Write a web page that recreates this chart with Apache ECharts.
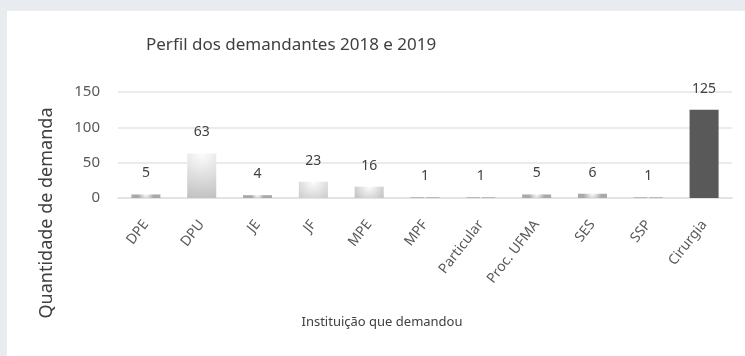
<!DOCTYPE html>
<html>
<head>
<meta charset="utf-8">
<script src="https://cdn.jsdelivr.net/npm/echarts@6/dist/echarts.min.js"></script>
<style>
  html, body { margin: 0; padding: 0; background: #e8ecf0; }
  #chart { width: 745px; height: 356px; }
</style>
</head>
<body>
<div id="chart"></div>
<script>
// Institutions that requested the service, 2018-2019
const categories = ['DPE', 'DPU', 'JE', 'JF', 'MPE', 'MPF', 'Particular', 'Proc. UFMA', 'SES', 'SSP', 'Cirurgia'];
const demandas = [5, 63, 4, 23, 16, 1, 1, 5, 6, 1, 125];
const yTicks = [0, 50, 100, 150];

const FONT = "'Noto Sans', 'Open Sans', sans-serif";

// soft grey fill used for every bar except the highlighted one
const softFill = {
  type: 'radial', x: 0.5, y: 0, r: 2.2,
  colorStops: [
    { offset: 0, color: '#fdfdfd' },
    { offset: 1, color: '#a9a9a9' }
  ]
};

const chart = echarts.init(document.getElementById('chart'), null, { renderer: 'canvas' });

chart.setOption({
  backgroundColor: '#e8ecf0',
  animation: false,
  graphic: [{
    type: 'rect', z: -10, silent: true,
    shape: { x: 7, y: 11, width: 738, height: 345 },
    style: { fill: '#ffffff' }
  }],
  title: {
    text: 'Perfil dos demandantes 2018 e 2019',
    left: 141, top: 32,
    textStyle: { fontFamily: FONT, fontSize: 17, fontWeight: 'normal', color: '#404040' }
  },
  grid: { left: 118, right: 13, top: 92, bottom: 158, containLabel: false },
  xAxis: {
    type: 'category',
    data: categories,
    name: 'Instituição que demandou',
    nameLocation: 'middle',
    nameGap: 118,
    nameTextStyle: { fontFamily: FONT, fontSize: 13, color: '#404040', padding: [0, 86, 0, 0] },
    axisLine: { lineStyle: { color: '#e3e3e3', width: 2 } },
    axisTick: { show: false },
    axisLabel: {
      interval: 0, rotate: 52, margin: 24,
      fontFamily: FONT, fontSize: 14, color: '#595959'
    }
  },
  yAxis: {
    type: 'value',
    min: yTicks[0], max: yTicks[yTicks.length - 1], interval: 50,
    name: 'Quantidade de demanda',
    nameLocation: 'middle',
    nameGap: 62,
    nameRotate: 90,
    nameTextStyle: { fontFamily: FONT, fontSize: 18, color: '#404040', padding: [0, 136, 0, 0] },
    axisLine: { show: false },
    axisTick: { show: false },
    splitLine: { lineStyle: { color: '#ebebeb', width: 2 } },
    axisLabel: { margin: 18, fontFamily: FONT, fontSize: 15, color: '#595959' }
  },
  series: [{
    type: 'bar',
    data: demandas.map((v, i) => ({
      value: v,
      itemStyle: { color: i === categories.length - 1 ? '#595959' : softFill }
    })),
    barWidth: '52%',
    label: {
      show: true, position: 'top', distance: 14,
      fontFamily: FONT, fontSize: 14, color: '#404040'
    }
  }]
});
</script>
</body>
</html>
